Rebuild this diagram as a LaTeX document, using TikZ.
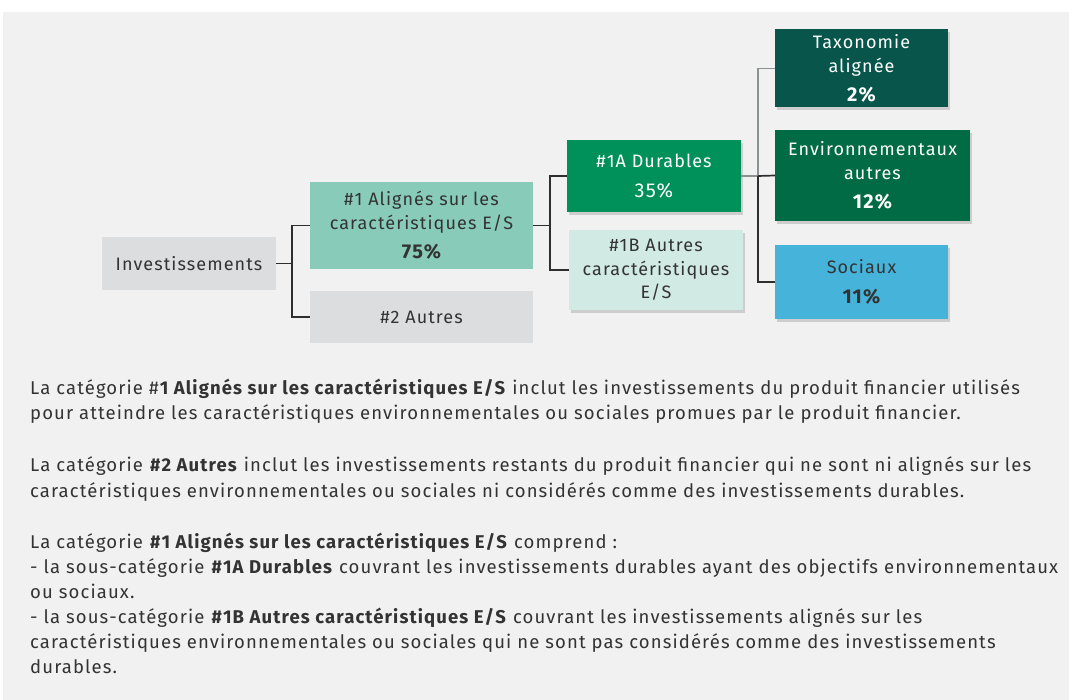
\documentclass[tikz,border=0pt]{standalone}
\usepackage{fontspec}
\setmainfont{Fira Sans}[LetterSpace=6]
\usetikzlibrary{shadows}

\definecolor{panel}{HTML}{F1F1F1}
\definecolor{greybox}{HTML}{DCDDDF}
\definecolor{tealbox}{HTML}{88CBB9}
\definecolor{durbox}{HTML}{00905A}
\definecolor{palebox}{HTML}{D1EAE3}
\definecolor{taxbox}{HTML}{07554B}
\definecolor{envbox}{HTML}{006B44}
\definecolor{socbox}{HTML}{45B3DA}
\definecolor{ink}{HTML}{333333}
\definecolor{linedark}{HTML}{2E2E2E}
\definecolor{linegrey}{HTML}{8C9194}

\tikzset{
  box/.style={rectangle, inner sep=0pt, align=center, text=ink,
    font=\fontsize{18}{23.5}\selectfont},
  shade box/.style={box, drop shadow={shadow xshift=1.5pt, shadow yshift=-3pt,
    opacity=0.15, fill=black}},
  conn/.style={draw=linedark, line width=1.7pt},
  conn grey/.style={draw=linegrey, line width=1.7pt},
  para/.style={anchor=base west, align=left, inner sep=0pt, text=ink,
    font=\fontsize{18.5}{25}\selectfont},
}
\newcommand{\pct}[1]{{\fontsize{20}{20}\selectfont\bfseries #1}}

\begin{document}
\begin{tikzpicture}[x=1pt, y=-1pt]
    \useasboundingbox (0,0) rectangle (1069,700);
    \fill[white] (0,0) rectangle (1069,700);
    \fill[panel] (3,12) rectangle (1069,700);

    % left part
    \node[box, fill=greybox, minimum width=174pt, minimum height=53pt] (inv) at (189,263.5) {Investissements};
    \node[box, fill=tealbox, minimum width=223pt, minimum height=87pt] (al) at (421.5,225.5)
        {\#1 Alignés sur les\\caractéristiques E/S\\[6pt]\pct{75\%}};
    \node[box, fill=greybox, minimum width=223pt, minimum height=52pt] (autres) at (421.5,317) {\#2 Autres};

    % middle part
    \node[shade box, fill=durbox, text=white, minimum width=174pt, minimum height=72pt] (dur) at (654,176)
        {\#1A Durables\\[7pt]{\fontsize{20}{20}\selectfont 35\%}};
    \node[shade box, fill=palebox, minimum width=174pt, minimum height=80pt] (es) at (656,270)
        {\#1B Autres\\caractéristiques\\E/S};

    % right part
    \node[shade box, fill=taxbox, text=white, minimum width=173pt, minimum height=78pt] (tax) at (861.5,68.5)
        {Taxonomie\\alignée\\[6pt]\pct{2\%}};
    \node[shade box, fill=envbox, text=white, minimum width=195pt, minimum height=91pt] (env) at (872.5,175.5)
        {Environnementaux\\autres\\[6pt]\pct{12\%}};
    \node[shade box, fill=socbox, minimum width=173pt, minimum height=74pt] (soc) at (861.5,282)
        {Sociaux\\[7pt]\pct{11\%}};

    % connectors
    \coordinate (j1) at (292,263.5);
    \coordinate (j2) at (550,225.5);
    \coordinate (j3) at (758,176);
    \draw[conn] (inv.east) -- (j1);
    \draw[conn] (j1) |- (al.west);
    \draw[conn] (j1) |- (autres.west);
    \draw[conn] (al.east) -- (j2);
    \draw[conn] (j2) |- (dur.west);
    \draw[conn] (j2) |- (es.west);
    \draw[conn grey] (dur.east) -- (j3);
    \draw[conn grey] (j3) |- (tax.west);
    \draw[conn] (j3) -- (env.west);
    \draw[conn] (j3) |- (soc.west);

    % notes (anchored on the baseline of the last line)
    \node[para] (p1) at (30,420)
        {La catégorie \#\textbf{1 Alignés sur les caractéristiques E/S} inclut les investissements du produit financier utilisés\\
         pour atteindre les caractéristiques environnementales ou sociales promues par le produit financier.};
    \node[para] (p2) at (30,497)
        {La catégorie \textbf{\#2 Autres} inclut les investissements restants du produit financier qui ne sont ni alignés sur les\\
         caractéristiques environnementales ou sociales ni considérés comme des investissements durables.};
    \node[para] (p3) at (30,673)
        {La catégorie \textbf{\#1 Alignés sur les caractéristiques E/S} comprend :\\
         - la sous-catégorie \textbf{\#1A Durables} couvrant les investissements durables ayant des objectifs environnementaux\\
         ou sociaux.\\
         - la sous-catégorie \textbf{\#1B Autres caractéristiques E/S} couvrant les investissements alignés sur les\\
         caractéristiques environnementales ou sociales qui ne sont pas considérés comme des investissements\\
         durables.};
\end{tikzpicture}
\end{document}
